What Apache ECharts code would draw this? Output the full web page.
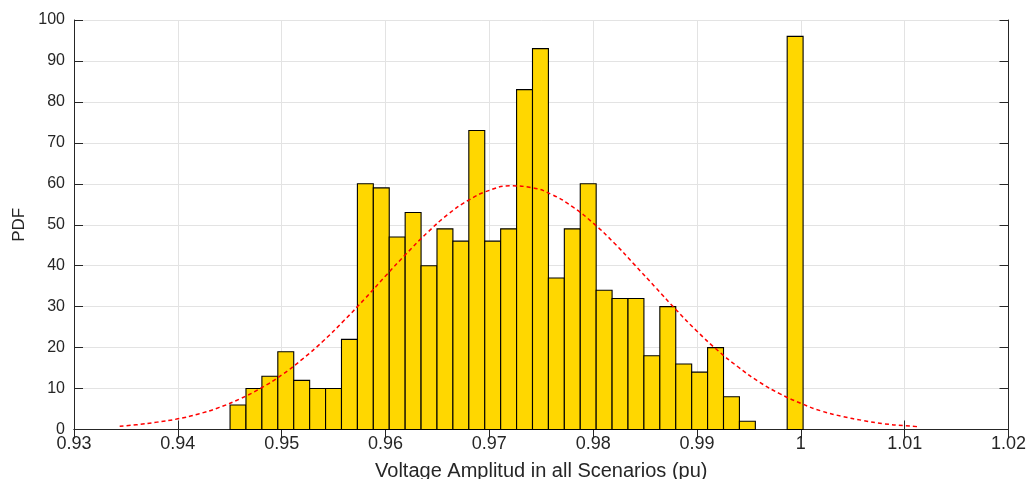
<!DOCTYPE html>
<html>
<head>
<meta charset="utf-8">
<script src="https://cdn.jsdelivr.net/npm/echarts@6/dist/echarts.min.js"></script>
<style>
  html, body { margin: 0; padding: 0; background: #fff; }
  #chart { width: 1030px; height: 479px; }
</style>
</head>
<body>
<div id="chart"></div>
<script>
// histogram bins (pu)
const binStart = 0.94503
const binWidth = 0.001533
const counts = [6, 10, 13, 19, 12, 10, 10, 22, 60, 59, 47, 53, 40, 49, 46, 73, 46, 49,
  83, 93, 37, 49, 60, 34, 32, 32, 18, 30, 16, 14, 20, 8, 2, 0, 0, 96]

// fitted normal curve
const curveX = [0.9344, 0.936, 0.938, 0.940, 0.942, 0.944, 0.946, 0.948, 0.950, 0.952, 0.954,
  0.956, 0.958, 0.960, 0.962, 0.964, 0.966, 0.968, 0.970, 0.972, 0.974, 0.976, 0.978, 0.980,
  0.982, 0.984, 0.986, 0.988, 0.990, 0.992, 0.994, 0.996, 0.998, 1.000, 1.002, 1.004, 1.006,
  1.008, 1.010, 1.0112]
const curveY = [0.8, 1.15, 1.8, 2.6, 3.8, 5.4, 7.5, 10.1, 13.3, 17.2, 21.6,
  26.6, 31.9, 37.5, 42.9, 48.0, 52.5, 56.0, 58.4, 59.5, 59.1, 57.4, 54.4, 50.4,
  45.6, 40.2, 34.7, 29.2, 24.0, 19.3, 15.2, 11.6, 8.7, 6.4, 4.5, 3.2, 2.2,
  1.4, 0.95, 0.7]

const xMin = 0.93
const xMax = 1.02
const yMax = 100

const textColor = '#262626'
const fontFamily = '"Liberation Sans", Arial, sans-serif'

const barData = []
counts.forEach((c, i) => {
  if (c > 0) barData.push([binStart + i * binWidth, binStart + (i + 1) * binWidth, c])
})
const lineData = curveX.map((x, i) => [x, curveY[i]])

const chart = echarts.init(document.getElementById('chart'))

const fmtX = v => String(parseFloat(v.toFixed(3)))

chart.setOption({
  backgroundColor: '#fff',
  animation: false,
  grid: {
    left: 74,
    right: 21.5,
    top: 20,
    bottom: 49.5,
    // 不让标签挤压绘图区
    outerBoundsMode: 'none'
  },
  xAxis: [
    {
      type: 'value',
      min: xMin,
      max: xMax,
      interval: 0.01,
      name: 'Voltage Amplitud in all Scenarios (pu)',
      nameLocation: 'middle',
      nameGap: 32,
      nameTextStyle: { color: textColor, fontSize: 20, fontFamily: fontFamily },
      axisLine: { show: true, lineStyle: { color: textColor, width: 1 } },
      axisTick: { show: true, inside: true, length: 9, lineStyle: { color: textColor } },
      axisLabel: { color: textColor, fontSize: 18, fontFamily: fontFamily, margin: 6, formatter: fmtX },
      splitLine: { show: true, lineStyle: { color: '#e3e3e3', width: 1 } }
    },
    {
      type: 'value',
      position: 'top',
      min: xMin,
      max: xMax,
      interval: 0.01,
      axisLine: { show: true, lineStyle: { color: textColor, width: 1 } },
      axisTick: { show: true, inside: true, length: 9, lineStyle: { color: textColor } },
      axisLabel: { show: false },
      splitLine: { show: false }
    }
  ],
  yAxis: [
    {
      type: 'value',
      min: 0,
      max: yMax,
      interval: 10,
      name: 'PDF',
      nameLocation: 'middle',
      nameGap: 45,
      nameRotate: 90,
      nameTextStyle: { color: textColor, fontSize: 17, fontFamily: fontFamily },
      axisLine: { show: true, lineStyle: { color: textColor, width: 1 } },
      axisTick: { show: true, inside: true, length: 9, lineStyle: { color: textColor } },
      axisLabel: { color: textColor, fontSize: 16, fontFamily: fontFamily, margin: 9 },
      splitLine: { show: true, lineStyle: { color: '#e3e3e3', width: 1 } }
    },
    {
      type: 'value',
      position: 'right',
      min: 0,
      max: yMax,
      interval: 10,
      axisLine: { show: true, lineStyle: { color: textColor, width: 1 } },
      axisTick: { show: true, inside: true, length: 9, lineStyle: { color: textColor } },
      axisLabel: { show: false },
      splitLine: { show: false }
    }
  ],
  series: [
    {
      type: 'custom',
      name: 'Histogram',
      xAxisIndex: 0,
      yAxisIndex: 0,
      z: 3,
      encode: { x: [0, 1], y: 2 },
      data: barData,
      renderItem: function(params, api) {
        const p0 = api.coord([api.value(0), api.value(2)])
        const p1 = api.coord([api.value(1), 0])
        return {
          type: 'rect',
          shape: { x: p0[0], y: p0[1], width: p1[0] - p0[0], height: p1[1] - p0[1] },
          style: { fill: '#FFD700', stroke: '#000', lineWidth: 1.1 }
        }
      }
    },
    {
      type: 'line',
      name: 'Normal fit',
      xAxisIndex: 0,
      yAxisIndex: 0,
      z: 5,
      data: lineData,
      smooth: true,
      showSymbol: false,
      symbol: 'none',
      lineStyle: { color: '#ff0000', width: 1.5, type: [4, 3] }
    }
  ]
})
</script>
</body>
</html>
